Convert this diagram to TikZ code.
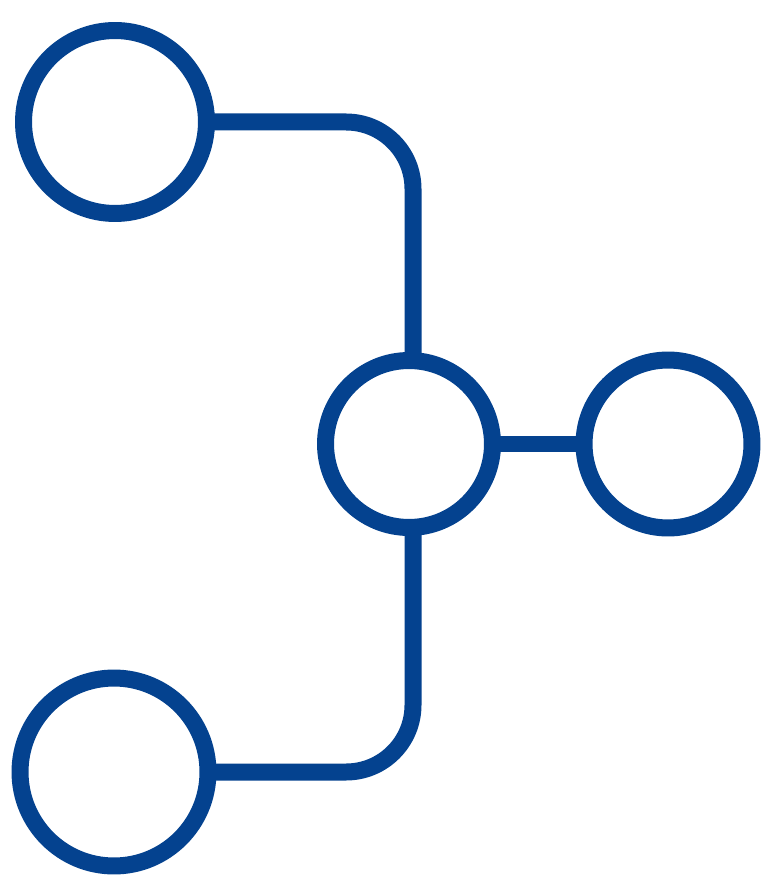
\documentclass[tikz,border=0pt]{standalone}
\definecolor{netblue}{RGB}{4,66,143}
\begin{document}
\begin{tikzpicture}[x=0.02cm,y=-0.02cm, line join=round,
	hub/.style={circle,draw=netblue,line width=0.34cm,inner sep=0pt,outer sep=0pt,minimum size=#1},
	link/.style={draw=netblue,line width=0.34cm,rounded corners=1.34cm}]
	\useasboundingbox (0,0) rectangle (768,884);
	\path 
	(115,122) coordinate (a)
	(114,772) coordinate (b)
	(409,444) coordinate (c)
	(668,444) coordinate (d)
	(413,0) coordinate (x)
	;
	\node[hub=3.66cm] (top) at (a) {};
	\node[hub=3.76cm] (bottom) at (b) {};
	\node[hub=3.34cm] (centre) at (c) {};
	\node[hub=3.36cm] (right) at (d) {};
	\draw[link] (top.east) -- (top.east -| x) -- (centre.north -| x);
	\draw[link] (bottom.east) -- (bottom.east -| x) -- (centre.south -| x);
	\draw[link] (centre.east) -- (right.west);
\end{tikzpicture}
\end{document}
